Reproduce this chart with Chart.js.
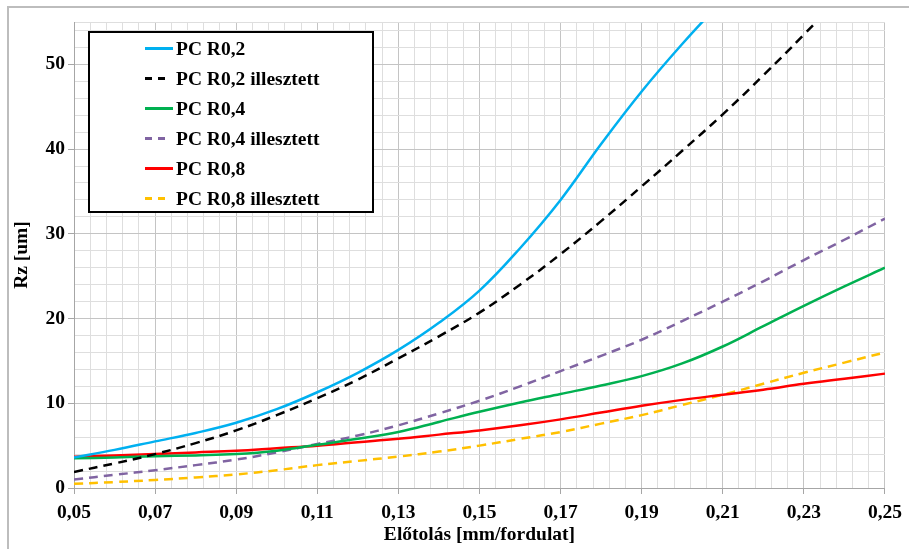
<!DOCTYPE html>
<html>
<head>
<meta charset="utf-8">
<script src="https://cdn.jsdelivr.net/npm/chart.js@4.4.1/dist/chart.umd.min.js"></script>
<style>
  html, body { margin: 0; padding: 0; background: #fff; }
  #wrap { position: relative; width: 909px; height: 549px; }
</style>
</head>
<body>
<div id="wrap"><canvas id="chart" width="909" height="549"></canvas></div>
<script>
(function () {
  // feed rate (mm/fordulat) and measured / fitted Rz values (um)
  const feedRates = [0.05, 0.06, 0.07, 0.08, 0.09, 0.10, 0.11, 0.12, 0.13, 0.14, 0.15,
                     0.16, 0.17, 0.18, 0.19, 0.20, 0.21, 0.22, 0.23, 0.24, 0.25];

  const pcR02 = [3.6, 4.5, 5.5, 6.5, 7.7, 9.3, 11.3, 13.6, 16.3, 19.5, 23.3,
                 28.3, 34.0, 40.6, 46.8, 52.4, 57.6];
  const pcR02Fit = [1.9, 2.9, 4.0, 5.3, 6.8, 8.6, 10.6, 12.8, 15.3, 17.9, 20.7,
                    24.0, 27.6, 31.5, 35.6, 39.8, 44.1, 48.7, 53.5, 58.5];
  const pcR04 = [3.5, 3.6, 3.75, 3.85, 4.0, 4.4, 5.1, 5.8, 6.6, 7.8, 9.0,
                 10.1, 11.1, 12.1, 13.2, 14.7, 16.7, 19.1, 21.5, 23.8, 26.0];
  const pcR04Fit = [1.0, 1.55, 2.1, 2.7, 3.35, 4.2, 5.2, 6.2, 7.4, 8.8, 10.3,
                    12.0, 13.8, 15.6, 17.5, 19.7, 22.0, 24.4, 26.9, 29.3, 31.8];
  const pcR08 = [3.7, 3.85, 4.0, 4.2, 4.4, 4.7, 5.0, 5.4, 5.8, 6.3, 6.8,
                 7.4, 8.1, 8.9, 9.7, 10.4, 11.0, 11.6, 12.3, 12.9, 13.5];
  const pcR08Fit = [0.5, 0.7, 0.95, 1.25, 1.6, 2.1, 2.7, 3.2, 3.7, 4.3, 5.0,
                    5.8, 6.6, 7.6, 8.6, 9.8, 11.0, 12.3, 13.6, 14.8, 16.0];

  const seriesNames = ["PC R0,2", "PC R0,2 illesztett", "PC R0,4",
                       "PC R0,4 illesztett", "PC R0,8", "PC R0,8 illesztett"];

  // axis ticks
  const xMajorTicks = [0.05, 0.07, 0.09, 0.11, 0.13, 0.15, 0.17, 0.19, 0.21, 0.23, 0.25];
  const xTickLabels = ["0,05", "0,07", "0,09", "0,11", "0,13", "0,15", "0,17", "0,19", "0,21", "0,23", "0,25"];
  const xMinorPerMajor = 5;
  const yMajorTicks = [0, 10, 20, 30, 40, 50];
  const yTickLabels = ["0", "10", "20", "30", "40", "50"];
  const yMinorStep = 2;
  const yMax = 55;

  const FONT = "'Liberation Serif', 'Times New Roman', serif";
  const FONT_SIZE = 19.5;

  const toPoints = (vals) => vals.map((v, i) => ({ x: feedRates[i], y: v }));

  function line(label, values, color, dashed) {
    return {
      label,
      data: toPoints(values),
      borderColor: color,
      backgroundColor: color,
      borderWidth: 2.5,
      borderDash: dashed ? [9, 6] : [],
      pointRadius: 0,
      fill: false,
      tension: 0.4,
    };
  }

  // x grid every 0.004, y grid every 2
  const xGrid = [];
  for (let i = 0; i < xMajorTicks.length - 1; i++) {
    const step = (xMajorTicks[i + 1] - xMajorTicks[i]) / xMinorPerMajor;
    for (let k = 0; k < xMinorPerMajor; k++) xGrid.push(xMajorTicks[i] + k * step);
  }
  xGrid.push(xMajorTicks[xMajorTicks.length - 1]);
  const yGrid = [];
  for (let v = 0; v < yMax; v += yMinorStep) yGrid.push(v);
  yGrid.push(yMax);

  const majorIndex = (list, v) => list.findIndex((m) => Math.abs(m - v) < 1e-9);

  const gridColor = (list) => (ctx) =>
    ctx.tick && majorIndex(list, ctx.tick.value) >= 0 ? "#c4c4c4" : "#dedede";
  const tickColor = (list) => (ctx) =>
    ctx.tick && majorIndex(list, ctx.tick.value) >= 0 ? "#a6a6a6" : "rgba(0,0,0,0)";

  // Legend drawn as a framed box inside the plot area
  const legendBox = {
    id: "legendBox",
    afterDatasetsDraw(chart) {
      const ctx = chart.ctx;
      ctx.save();
      ctx.fillStyle = "#fff";
      ctx.fillRect(89, 32, 284, 180);
      ctx.lineWidth = 2;
      ctx.strokeStyle = "#000";
      ctx.strokeRect(89, 32, 284, 180);
      ctx.font = "bold " + FONT_SIZE + "px " + FONT;
      ctx.textBaseline = "middle";
      chart.data.datasets.forEach((ds, i) => {
        const y = 48.5 + i * 30;
        ctx.beginPath();
        ctx.lineWidth = 3;
        ctx.strokeStyle = ds.borderColor;
        if (ds.borderDash.length) {
          ctx.setLineDash([7, 6]);
          ctx.moveTo(145, y);
          ctx.lineTo(168, y);
        } else {
          ctx.setLineDash([]);
          ctx.moveTo(145, y);
          ctx.lineTo(173, y);
        }
        ctx.stroke();
        ctx.setLineDash([]);
        ctx.fillStyle = "#000";
        ctx.fillText(ds.label, 176, y + 1);
      });
      ctx.restore();
    },
  };

  // white background + grey outer frame
  const frame = {
    id: "frame",
    beforeDraw(chart) {
      const ctx = chart.ctx;
      ctx.save();
      ctx.fillStyle = "#fff";
      ctx.fillRect(0, 0, chart.width, chart.height);
      ctx.strokeStyle = "#bdbdbd";
      ctx.lineWidth = 2;
      ctx.strokeRect(8, 7, chart.width + 10, chart.height + 10);
      ctx.restore();
    },
  };

  const axisFont = { family: FONT, size: FONT_SIZE, weight: "bold" };

  new Chart(document.getElementById("chart"), {
    type: "line",
    data: {
      datasets: [
        line(seriesNames[0], pcR02, "#00b0f0", false),
        line(seriesNames[1], pcR02Fit, "#000000", true),
        line(seriesNames[2], pcR04, "#00b050", false),
        line(seriesNames[3], pcR04Fit, "#8064a2", true),
        line(seriesNames[4], pcR08, "#ff0000", false),
        line(seriesNames[5], pcR08Fit, "#ffc000", true),
      ],
    },
    options: {
      responsive: false,
      animation: false,
      devicePixelRatio: 1,
      layout: { padding: { top: 22, right: 19, left: 0, bottom: 0 } },
      plugins: { legend: { display: false }, tooltip: { enabled: false } },
      scales: {
        x: {
          type: "linear",
          min: xMajorTicks[0],
          max: xMajorTicks[xMajorTicks.length - 1],
          afterBuildTicks: (axis) => { axis.ticks = xGrid.map((v) => ({ value: v })); },
          afterFit: (axis) => { axis.height = 61; },
          grid: { color: gridColor(xMajorTicks), tickColor: tickColor(xMajorTicks), tickLength: 6, lineWidth: 1 },
          border: { color: "#a6a6a6", width: 1 },
          ticks: {
            autoSkip: false,
            maxRotation: 0,
            padding: 7,
            color: "#000",
            font: axisFont,
            callback: (v) => {
              const i = majorIndex(xMajorTicks, v);
              return i >= 0 ? xTickLabels[i] : "";
            },
          },
          title: {
            display: true,
            text: "Előtolás [mm/fordulat]",
            color: "#000",
            font: axisFont,
            padding: { top: 0, bottom: 2 },
          },
        },
        y: {
          type: "linear",
          min: 0,
          max: yMax,
          afterBuildTicks: (axis) => { axis.ticks = yGrid.map((v) => ({ value: v })); },
          afterFit: (axis) => { axis.width = 74; },
          grid: { color: gridColor(yMajorTicks), tickColor: tickColor(yMajorTicks), tickLength: 6, lineWidth: 1 },
          border: { color: "#a6a6a6", width: 1 },
          ticks: {
            autoSkip: false,
            padding: 3,
            color: "#000",
            font: axisFont,
            callback: (v) => {
              const i = majorIndex(yMajorTicks, v);
              return i >= 0 ? yTickLabels[i] : "";
            },
          },
          title: {
            display: true,
            text: "Rz [um]",
            color: "#000",
            font: axisFont,
            padding: { top: 10, bottom: 0 },
          },
        },
      },
    },
    plugins: [frame, legendBox],
  });
})();
</script>
</body>
</html>
